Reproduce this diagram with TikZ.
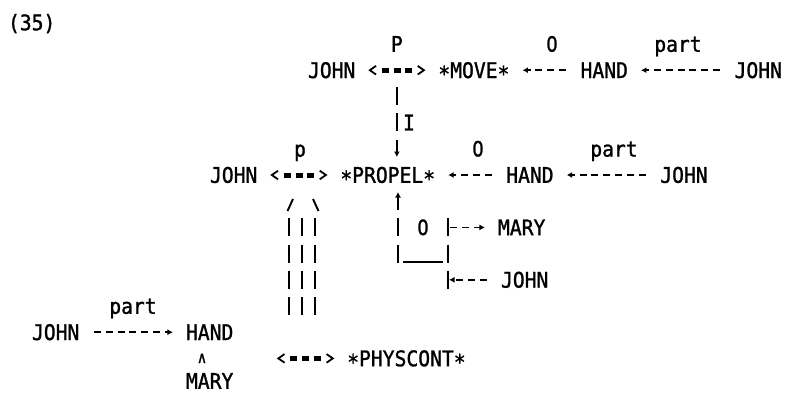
\documentclass[tikz,border=0pt]{standalone}
\usepackage{fontspec}
\newfontfamily\cdmono[FakeStretch=0.915,FakeBold=1.2]{DejaVu Sans Mono}
\newfontfamily\cdsans[FakeStretch=0.86,FakeBold=1.2]{DejaVu Sans}
\newcommand\cdtext{\cdmono\fontsize{21.5pt}{24pt}\selectfont}
\newcommand\cdsign{\cdsans\fontsize{21pt}{24pt}\selectfont}
% primitive-act asterisk, set at the middle of the capitals
\newcommand\actstar{\raisebox{-3.5pt}{*}}
\usetikzlibrary{arrows.meta,decorations.markings}

\begin{document}
\begin{tikzpicture}[x=1pt,y=-1pt,
  % a word of the conceptualization, padded by one character cell on each side
  word/.style={font=\cdtext, inner xsep=11.85pt, inner ysep=0pt,
               text height=15.6pt, text depth=0pt},
  tag/.style={font=\cdtext, inner sep=0pt, text height=15.6pt, text depth=0pt},
  casetag/.style={font=\cdsign, inner sep=0pt, text height=15.2pt, text depth=0pt},
  % dashed relation arrow  (<----)
  dasharrow/.style={line width=1.8pt, dash pattern=on 7pt off 4.85pt,
                    dash phase=9.45pt, -{Latex[length=5.5pt,width=6pt]},
                    shorten >=1pt},
  % vertical bars drawn one text line at a time
  rowbar/.style={line width=1.9pt, dash pattern=on 18pt off 8.2pt},
  bar/.style={line width=1.9pt},
  % two-way causal link  (<===>)
  causal/.style={draw=none,
     postaction={draw, line width=5pt, dash pattern=on 7pt off 4.85pt,
                 dash phase=9.45pt, shorten <=11.85pt, shorten >=11.85pt},
     postaction={decorate, decoration={markings,
        mark=at position 0.1pt with
          {\draw[solid, line width=1.8pt] (8.5pt,4.3pt) -- (2.3pt,0pt) -- (8.5pt,-4.3pt);},
        mark=at position -0.1pt with
          {\draw[solid, line width=1.8pt] (-8.5pt,4.3pt) -- (-2.3pt,0pt) -- (-8.5pt,-4.3pt);}}}},
]
\fill[white] (0,0) rectangle (785,394);
\useasboundingbox (0,0) rectangle (785,394);

% example number
\node[tag] (num) at (31.7,22.5) {(35)};

% ---- JOHN moves his hand
\node[word] (john1)  at (331.7,70.2) {JOHN};
\node[word] (move)   at (473.9,70.2) {\actstar MOVE\actstar};
\node[word] (hand1)  at (604.25,70.2) {HAND};
\node[word] (john1b) at (758.3,70.2) {JOHN};
\path[causal] (john1.east) -- (move.west) coordinate[midway] (act1);
\draw[dasharrow] (hand1.west) -- (move.east);
\draw[dasharrow] (john1b.west) -- (hand1.east);
\node[tag] (p1)    at (396.9,44) {P};
\node[casetag] (o1) at (552,44) {0};
\node[tag] (part1) at (678,44) {part};

% ---- JOHN propels his hand to MARY
\node[word] (john2)  at (233.7,175) {JOHN};
\node[word] (propel) at (387.75,175) {\actstar PROPEL\actstar};
\node[word] (hand2)  at (529.95,175) {HAND};
\node[word] (john2b) at (684,175) {JOHN};
\path[causal] (john2.east) -- (propel.west) coordinate[midway] (act2);
\draw[dasharrow] (hand2.west) -- (propel.east);
\draw[dasharrow] (john2b.west) -- (hand2.east);
\node[tag] (p2)    at (300,148.8) {p};
\node[casetag] (o2) at (478,148.8) {0};
\node[tag] (part2) at (614,148.8) {part};

% instrumental link from the MOVE conceptualization
\draw[rowbar, -{Latex[length=5.5pt,width=6pt]}, shorten >=10pt]
  (act1) ++(0,17) -- (propel.north -| act1);
\node[tag] (inst) at (409,122.6) {I};

% recipient case
\coordinate (boxbl) at (398,262.6);
\coordinate (boxtr) at (448,218.4);
\coordinate (boxbr) at (448,288.8);
\draw[rowbar, -{Latex[length=5.5pt,width=6pt]}, shorten >=9pt]
  (boxbl) -- (propel.south -| boxbl);
\draw[rowbar] (boxtr) -- (boxbr);
\draw[bar] (403,262) -- (443,262);
\node[casetag] (o3) at (423,227.4) {0};
\node[word] (mary2) at (521.7,227.4) {MARY};
\node[word] (john4) at (524.7,279.8) {JOHN};
\coordinate (rto) at (448,227.4);
\coordinate (rfrom) at (448,279.8);
\draw[dasharrow] (rto) -- (mary2.west);
\draw[dasharrow] (john4.west) -- (rfrom);

% result link down to the contact
\draw[bar] (293,199) -- (287.5,211);
\draw[bar] (313,199) -- (318.5,211);
\draw[rowbar] (289,218.4) -- (289,315);
\draw[rowbar] (302,218.4) -- (302,315);
\draw[rowbar] (315,218.4) -- (315,315);

% ---- JOHN's hand and MARY in contact
\node[word] (john3) at (55.7,332.2) {JOHN};
\node[word] (hand3) at (209.7,332.2) {HAND};
\draw[dasharrow] (john3.east) -- (hand3.west);
\node[tag] (part3) at (133,306) {part};
\node[font=\cdsans\fontsize{16pt}{18pt}\selectfont, inner sep=0pt] (and) at (202,358.4) {∧};
\node[word] (mary3) at (209.7,381) {MARY};
\node[word] (phys) at (406.45,358.4) {\actstar PHYSCONT\actstar};
\path (phys.west) ++(-59.25,0) coordinate (act3);
\path[causal] (act3) -- (phys.west);
\end{tikzpicture}
\end{document}
